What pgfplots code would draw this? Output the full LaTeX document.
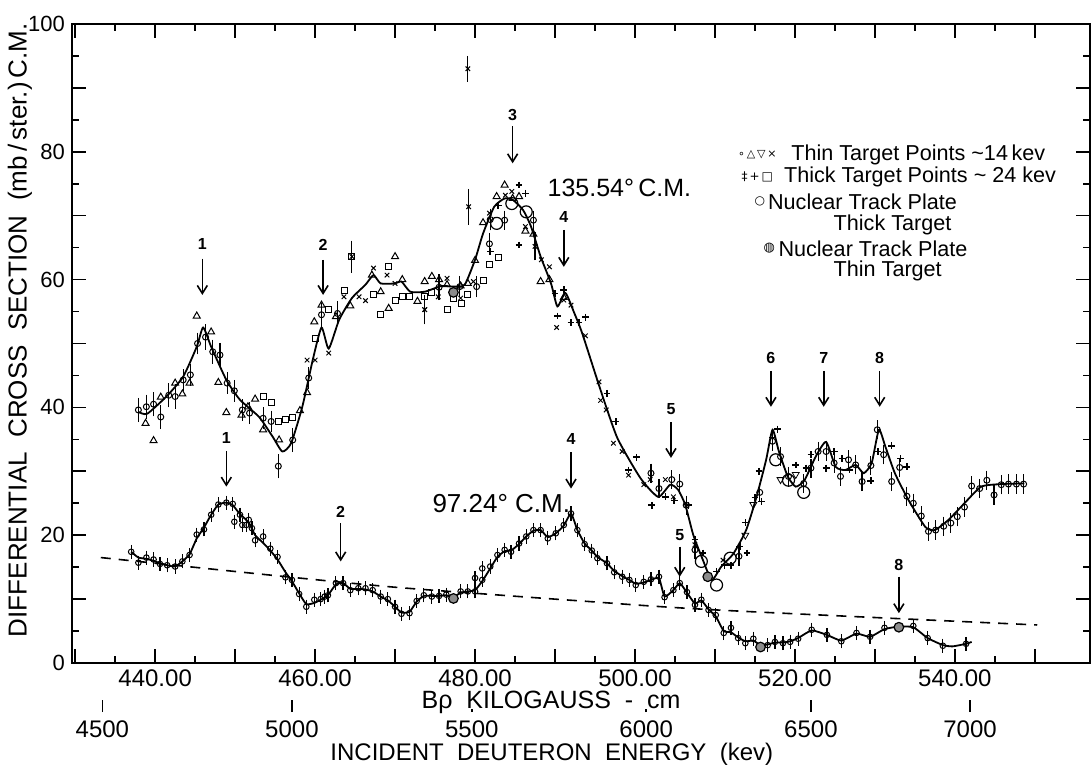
\documentclass[border=0pt]{standalone}
\usepackage{fontspec}
\setmainfont{Liberation Sans}
\newfontfamily\sym{DejaVu Sans}
\usepackage{pgfplots}
\pgfplotsset{compat=1.18}
\usetikzlibrary{arrows.meta}

\pgfplotsset{
  dat/.style={only marks, black, mark options={line width=0.5pt, solid}},
  ebar/.style={error bars/.cd, y dir=both, y explicit,
    error bar style={line width=0.6pt, black},
    error mark options={line width=0.6pt, mark size=1.6pt, black}},
}
\tikzset{
  pk/.style={-{Straight Barb[length=4pt,width=5pt]}, line width=0.8pt},
  pkl/.style={font=\bfseries\fontsize{8}{8}\selectfont},
}

\begin{document}
\begin{tikzpicture}
\begin{axis}[
  scale only axis, width=509pt, height=319.5pt,
  xmin=429.6, xmax=556.9, ymin=0, ymax=100,
  xtick={430,440,...,550},
  xticklabels={,440.00,,460.00,,480.00,,500.00,,520.00,,540.00,},
  minor x tick num=1,
  ytick={0,10,...,100},
  yticklabels={0,,20,,40,,60,,80,,100},
  minor y tick num=1,
  tick align=inside, major tick length=7pt, minor tick length=3.5pt,
  every tick/.style={black, line width=0.8pt},
  axis line style={line width=0.8pt},
  xticklabel style={font=\fontsize{12}{12}\selectfont, inner sep=0.5pt, yshift=-2.5pt},
  yticklabel style={font=\fontsize{11}{11}\selectfont},
  clip=false,
]

% 135.54 deg curve
\addplot[black, line width=0.9pt, smooth, tension=0.35] coordinates {
(437.9,39.3)(439.0,39.0)(441.4,41.7)(443.5,44.8)(445.2,49.5)(446.0,52.5)(447.0,49.5)
(448.9,44.3)(450.6,41.2)(453.0,38.5)(454.7,35.4)(455.9,33.1)(457.0,34.4)(458.4,40.1)
(459.7,47.4)(460.8,52.5)(461.7,49.2)(463.0,53.7)(464.6,57.1)(466.3,59.2)(467.3,60.7)
(468.2,59.4)(470.0,59.4)(470.8,59.7)(471.9,58.1)(473.7,58.1)(475.8,59.0)(477.3,58.9)
(478.7,59.2)(480.0,63.1)(481.0,67.2)(482.4,71.4)(483.7,72.7)(484.7,72.5)(486.0,70.9)
(487.0,68.3)(488.2,63.6)(489.5,59.4)(490.3,55.8)(491.3,57.9)(492.4,54.8)(493.4,51.6)
(495.7,42.7)(497.8,35.2)(500.7,28.9)(502.9,26.0)(504.4,27.9)(505.4,27.1)(506.3,24.7)
(507.3,20.0)(508.5,16.1)(509.6,13.0)(510.8,15.1)(512.3,17.1)(513.9,20.8)(515.2,26.0)
(516.4,31.8)(517.2,36.5)(518.0,33.1)(519.1,29.2)(520.1,27.6)(521.2,28.6)(522.6,32.3)
(523.9,34.6)(525.1,30.7)(526.3,30.2)(527.6,31.0)(528.6,29.7)(529.6,31.3)(530.5,36.5)
(531.3,33.9)(532.5,29.7)(534.2,25.5)(536.3,21.3)(537.5,20.8)(539.2,22.4)(541.2,25.0)
(543.3,27.6)(545.8,28.0)(548.7,28.1)
};

% 97.24 deg curve
\addplot[black, line width=0.9pt, smooth, tension=0.3] coordinates {
(437.0,17.4)(437.9,16.5)(438.9,16.3)(439.8,16.0)(440.6,15.6)(441.5,15.3)(442.5,15.1)
(443.4,15.9)(444.3,17.0)(445.2,19.5)(446.1,21.2)(447.0,23.2)(447.9,24.8)(448.9,25.1)
(449.7,24.7)(450.6,23.3)(451.7,22.0)(452.5,20.0)(453.5,18.8)(454.4,17.6)(455.3,16.2)
(456.3,14.2)(457.1,12.8)(458.0,10.9)(458.9,9.2)(459.9,9.4)(460.7,9.9)(461.6,10.6)
(462.6,12.3)(463.5,12.5)(464.4,11.6)(465.4,11.6)(466.3,11.5)(467.2,11.2)(468.2,10.4)
(469.1,9.8)(470.0,8.8)(470.8,7.9)(471.8,8.0)(472.7,9.6)(473.6,10.5)(474.6,10.5)
(475.5,10.5)(476.4,10.6)(477.3,10.3)(478.2,11.0)(479.1,11.2)(480.0,11.4)(480.9,12.8)
(481.9,14.8)(482.8,16.6)(483.7,17.5)(484.5,17.6)(485.5,18.6)(486.4,19.8)(487.3,20.7)
(488.2,20.8)(489.1,19.7)(490.1,20.3)(491.1,21.5)(492.0,23.4)(492.8,20.8)(493.7,18.7)
(494.6,17.6)(495.3,16.6)(496.5,15.6)(497.4,14.4)(498.4,13.6)(499.3,13.0)(500.1,12.4)
(501.1,12.6)(502.0,13.0)(503.0,13.3)(503.7,10.4)(504.8,11.4)(505.6,12.5)(506.5,11.0)
(507.5,9.3)(508.3,9.8)(509.2,8.4)(510.1,7.3)(511.1,5.0)(512.0,4.8)(512.9,4.0)
(513.8,3.4)(514.8,3.5)(515.7,2.8)(516.6,2.9)(517.5,3.2)(518.5,3.2)(519.4,3.4)
(520.4,3.9)(522.1,5.1)(524.0,4.4)(525.8,3.5)(527.7,4.6)(529.4,4.1)(531.2,5.3)
(533.0,5.7)(534.8,5.6)(536.6,3.9)(538.5,2.8)(539.7,2.6)(541.4,3.0)(542.1,3.3)
};

% dashed background
\addplot[black, line width=0.8pt, dash pattern=on 5pt off 4pt, smooth] coordinates {
(433.2,16.5)(456.4,13.5)(469.6,11.9)(481.2,10.8)(492.8,9.75)(510.2,8.3)(550.3,5.95)
};

% lower curve points
\addplot[dat, mark=o, mark size=1.4pt, ebar] coordinates {
(437.0,17.4)+-(0,0.6)(437.9,15.7)+-(0,0.6)(438.9,16.5)+-(0,0.6)(439.8,16.2)+-(0,0.6)
(440.6,15.5)+-(0,0.6)(441.5,15.3)+-(0,0.6)(442.5,15.1)+-(0,0.6)(443.4,15.9)+-(0,0.6)
(444.3,16.9)+-(0,0.6)(445.2,20.1)+-(0,0.6)(446.1,20.9)+-(0,0.6)(447.0,23.2)+-(0,0.6)
(447.9,24.8)+-(0,0.6)(448.9,25.1)+-(0,0.6)(449.7,24.9)+-(0,0.6)(449.9,22.1)+-(0,0.6)
(450.6,23.2)+-(0,0.6)(450.9,21.6)+-(0,0.6)(451.4,21.6)+-(0,0.6)(451.7,22.4)+-(0,0.6)
(452.1,21.1)+-(0,0.6)(452.5,19.2)+-(0,0.6)(453.5,19.8)+-(0,0.6)(454.4,17.9)+-(0,0.6)
(455.3,16.6)+-(0,0.6)(456.3,13.4)+-(0,0.6)(457.1,13.0)+-(0,0.6)(458.0,10.8)+-(0,0.6)
(458.9,8.8)+-(0,0.6)(459.9,9.9)+-(0,0.6)(460.7,10.0)+-(0,0.6)(461.2,10.4)+-(0,0.6)
(461.6,10.6)+-(0,0.6)(462.6,12.5)+-(0,0.6)(463.5,12.5)+-(0,0.6)(464.4,11.4)+-(0,0.6)
(465.4,11.7)+-(0,0.6)(466.3,11.7)+-(0,0.6)(467.2,11.4)+-(0,0.6)(468.2,10.4)+-(0,0.6)
(469.1,10.0)+-(0,0.6)(470.0,8.8)+-(0,0.6)(470.8,7.7)+-(0,0.6)(471.8,7.8)+-(0,0.6)
(472.7,9.7)+-(0,0.6)(473.6,10.6)+-(0,0.6)(474.6,10.4)+-(0,0.6)(475.5,10.5)+-(0,0.6)
(476.4,10.7)+-(0,0.6)(478.2,11.2)+-(0,0.6)(479.1,11.2)+-(0,0.6)(480.0,11.2)+-(0,0.6)
(480.0,13.3)+-(0,0.6)(480.9,13.0)+-(0,0.6)(480.9,14.8)+-(0,0.6)(481.9,15.1)+-(0,0.6)
(482.8,16.9)+-(0,0.6)(483.7,17.7)+-(0,0.6)(484.5,17.4)+-(0,0.6)(485.5,18.7)+-(0,0.6)
(486.4,19.8)+-(0,0.6)(487.3,20.8)+-(0,0.6)(488.2,20.8)+-(0,0.6)(489.1,19.5)+-(0,0.6)
(490.1,20.3)+-(0,0.6)(491.1,21.6)+-(0,0.6)(492.0,23.4)+-(0,0.6)(492.8,20.8)+-(0,0.6)
(493.7,18.6)+-(0,0.6)(494.6,17.6)+-(0,0.6)(495.3,16.4)+-(0,0.6)(496.5,15.6)+-(0,0.6)
(497.4,14.2)+-(0,0.6)(498.4,13.5)+-(0,0.6)(499.3,13.0)+-(0,0.6)(500.1,12.2)+-(0,0.6)
(501.1,12.7)+-(0,0.6)(502.0,13.1)+-(0,0.6)(503.0,13.5)+-(0,0.6)(503.7,10.3)+-(0,0.6)
(504.8,11.4)+-(0,0.6)(505.6,12.5)+-(0,0.6)(506.5,11.1)+-(0,0.6)(507.5,9.1)+-(0,0.6)
(508.3,9.9)+-(0,0.6)(509.2,8.3)+-(0,0.6)(510.1,7.5)+-(0,0.6)(511.1,4.7)+-(0,0.6)
(512.0,5.5)+-(0,0.6)(512.9,3.9)+-(0,0.6)(513.8,3.1)+-(0,0.6)(514.8,3.8)+-(0,0.6)
(516.6,2.8)+-(0,0.6)(517.5,3.3)+-(0,0.6)(518.5,3.1)+-(0,0.6)(519.4,3.3)+-(0,0.6)
(520.4,3.8)+-(0,0.6)(522.1,5.2)+-(0,0.6)(524.0,4.4)+-(0,0.6)(525.8,3.4)+-(0,0.6)
(527.7,4.7)+-(0,0.6)(529.4,4.1)+-(0,0.6)(531.2,5.5)+-(0,0.6)(534.8,5.8)+-(0,0.6)
(536.6,3.9)+-(0,0.6)(538.5,2.7)+-(0,0.6)(541.4,3.0)+-(0,0.6)
};

% upper: thin target circles with error bars
\addplot[dat, mark=o, mark size=1.5pt, ebar] coordinates {
(437.9,39.6)+-(0,1.4)(438.9,40.1)+-(0,1.4)(439.8,40.5)+-(0,1.4)(440.7,38.5)+-(0,1.4)
(441.7,41.9)+-(0,1.4)(442.5,41.7)+-(0,1.4)(443.5,44.3)+-(0,1.2)(444.4,45.1)+-(0,1.2)
(445.3,50.0)+-(0,1.2)(446.3,51.0)+-(0,1.5)(447.2,48.7)+-(0,1.4)(448.1,48.2)+-(0,1.4)
(449.0,43.8)+-(0,1.2)(449.9,42.6)+-(0,1.2)(450.9,39.6)+-(0,1.2)(451.8,39.1)+-(0,1.2)
(453.5,38.3)+-(0,1.2)(454.5,37.8)+-(0,1.2)(455.4,30.8)+-(0,1.4)(457.2,34.9)+-(0,1.4)
(459.2,44.6)+-(0,1.2)(460.8,54.5)+-(0,1.4)(462.8,54.7)+-(0,1.4)(475.5,58.8)+-(0,1.5)
(478.1,58.9)+-(0,1.2)(480.2,58.9)+-(0,1.2)(481.8,65.6)+-(0,1.2)(481.9,69.4)+-(0,1.2)
(483.7,69.3)+-(0,1.0)(487.3,69.3)+-(0,1.0)(502.0,29.7)+-(0,1.0)(503.0,27.3)+-(0,1.0)
(504.6,28.7)+-(0,1.0)(505.6,28.0)+-(0,1.0)(506.4,24.7)+-(0,1.0)(507.5,17.7)+-(0,1.0)
(513.0,16.7)+-(0,1.0)(515.6,26.7)+-(0,1.0)(517.2,34.7)+-(0,1.0)(518.2,32.3)+-(0,1.0)
(519.2,29.2)+-(0,1.0)(521.1,28.1)+-(0,1.0)(522.0,30.5)+-(0,1.0)(522.9,33.1)+-(0,1.0)
(523.9,33.1)+-(0,1.0)(524.9,31.3)+-(0,1.0)(525.7,29.2)+-(0,1.0)(526.7,31.8)+-(0,1.0)
(527.6,31.0)+-(0,1.0)(528.4,28.4)+-(0,1.0)(529.5,30.9)+-(0,1.0)(530.3,36.5)+-(0,1.0)
(531.1,32.6)+-(0,1.0)(532.1,28.4)+-(0,1.0)(533.1,30.6)+-(0,1.0)(534.0,26.1)+-(0,1.0)
(534.8,25.0)+-(0,1.0)(535.8,23.0)+-(0,1.0)(536.7,20.6)+-(0,1.0)(537.6,20.8)+-(0,1.0)
(538.6,21.4)+-(0,1.0)(539.5,21.9)+-(0,1.0)(540.3,22.9)+-(0,1.0)(541.2,24.4)+-(0,1.0)
(542.1,27.7)+-(0,1.0)(543.1,27.3)+-(0,1.0)(544.0,28.6)+-(0,1.0)(544.9,26.3)+-(0,1.0)
(545.8,27.9)+-(0,1.0)(546.7,28.0)+-(0,1.0)(547.7,28.0)+-(0,1.0)(548.6,28.0)+-(0,1.0)
};

% upper: thin target triangles
\addplot[dat, mark=triangle, mark size=2pt] coordinates {
(438.8,37.5)(439.8,34.8)(440.7,41.6)(442.5,43.8)(443.4,42.1)(444.3,43.8)(445.2,54.3)
(447.0,51.8)(447.9,43.9)(448.9,39.2)(450.8,38.8)(451.6,40.1)(452.5,41.3)(453.5,36.5)
(455.5,34.9)(458.1,39.5)(459.0,42.3)(459.9,53.4)(460.8,56.0)(462.6,54.2)(464.4,55.9)
(467.1,60.7)(468.2,58.1)(469.2,55.5)(470.0,63.6)(470.9,60.0)(472.8,56.6)(473.7,59.7)
(474.6,60.5)(475.5,60.0)(476.5,59.2)(478.2,59.0)(479.1,59.4)(480.0,63.0)(481.0,68.9)
(482.7,73.0)(483.7,74.8)(484.7,72.7)(485.5,73.0)(486.3,67.6)(487.3,67.1)(488.2,59.7)
(489.3,60.0)(491.1,57.2)
};

% upper: thin target inverted triangles
\addplot[dat, mark=triangle, mark size=2pt, mark options={rotate=180}] coordinates {
(518.2,28.7)(520.1,29.5)(514.8,24.8)(513.8,20.0)
};

% upper: thin target crosses
\addplot[dat, mark=x, mark size=1.6pt] coordinates {
(459.0,47.4)(460.0,47.4)(461.7,48.5)(463.6,57.3)(465.5,57.3)(466.3,56.7)(467.3,61.8)
(469.0,60.7)(470.0,59.4)(473.7,55.3)(475.4,57.3)(476.5,60.2)(478.2,57.1)(479.8,59.7)
(481.8,70.4)(483.8,73.2)(484.6,73.8)(486.3,68.3)(488.3,63.1)(489.3,62.0)(491.1,56.8)
(492.0,56.0)(490.2,52.5)(493.8,51.2)(495.5,44.0)(495.7,41.1)(496.4,39.6)(497.3,34.4)
(498.4,33.1)(499.2,29.4)(501.1,27.9)(501.9,28.7)(503.8,28.7)(504.8,26.0)(506.5,24.7)
(507.5,18.5)(511.0,16.1)
};

% crosses with error bars
\addplot[dat, mark=x, mark size=1.6pt, ebar] coordinates {
(479.1,93.0)+-(0,1.5)(479.2,71.4)+-(0,2.3)(487.5,65.2)+-(0,1.7)(473.7,55.3)+-(0,1.8)
(464.6,63.6)+-(0,2.0)
};

% upper: thick target squares
\addplot[dat, mark=square, mark size=1.5pt] coordinates {
(453.6,41.7)(454.5,40.7)(455.4,37.8)(456.3,38.1)(457.2,38.4)(460.1,50.8)(461.7,55.3)
(463.7,58.3)(464.6,63.6)(467.3,57.7)(468.2,54.5)(469.2,62.0)(470.0,56.7)(470.9,57.4)
(471.8,57.3)(473.7,57.3)(474.6,58.0)(476.5,55.3)(477.3,57.1)(478.3,56.3)(479.1,57.6)
(481.0,59.9)(481.8,62.3)(482.9,63.4)
};

% upper: thick target plus
\addplot[dat, mark=+, mark size=1.7pt, mark options={line width=0.8pt}] coordinates {
(485.5,74.8)(486.3,73.5)(485.5,65.4)(481.9,64.4)(482.9,71.6)(490.0,57.8)(490.3,54.3)
(491.1,58.4)(492.0,53.3)(493.0,53.3)(493.8,54.1)(496.5,42.2)(497.6,37.8)(500.2,32.2)
(499.2,30.2)(502.1,24.7)(503.8,26.0)(504.9,25.4)(506.7,24.7)(507.5,19.3)(508.5,17.2)
(510.2,14.3)(511.2,15.3)(512.0,15.3)(513.1,18.2)(514.0,17.2)(513.8,22.0)(515.0,25.9)
(515.8,25.3)(515.5,30.0)(517.2,35.3)(517.8,36.6)(520.1,31.0)(521.4,30.5)(522.0,32.6)
(523.9,30.5)(524.9,33.1)(525.9,32.0)(526.8,30.2)(529.5,28.5)(530.4,33.1)(532.1,34.0)
(533.2,32.0)(534.0,30.7)
};

% nuclear track plate, thick target
\addplot[dat, mark=o, mark size=3pt, mark options={fill=white, line width=0.6pt}] coordinates {
(482.7,68.8)(484.6,71.9)(486.4,70.6)(508.3,15.9)(510.2,12.2)(511.9,16.4)(517.6,31.8)
(519.2,28.6)(521.1,26.7)
};

% nuclear track plate, thin target
\addplot[dat, mark=*, mark size=2.4pt, mark options={fill=black!45, draw=black, line width=0.6pt}] coordinates {
(477.3,58.0)(509.1,13.5)(477.3,10.1)(515.7,2.5)(533.0,5.6)
};

% resonance arrows
\draw[pk] (axis cs:445.9,63.3) -- (axis cs:445.9,57.6);
\node[pkl] at (axis cs:445.9,65.6) {1};
\draw[pk] (axis cs:461.0,63.1) -- (axis cs:461.0,57.6);
\node[pkl] at (axis cs:461.0,65.4) {2};
\draw[pk] (axis cs:484.7,84.0) -- (axis cs:484.7,78.2);
\node[pkl] at (axis cs:484.7,85.8) {3};
\draw[pk] (axis cs:491.1,67.8) -- (axis cs:491.1,62.0);
\node[pkl] at (axis cs:491.1,69.8) {4};
\draw[pk] (axis cs:504.5,37.7) -- (axis cs:504.5,32.1);
\node[pkl] at (axis cs:504.5,39.7) {5};
\draw[pk] (axis cs:517.0,45.7) -- (axis cs:517.0,40.1);
\node[pkl] at (axis cs:517.0,47.7) {6};
\draw[pk] (axis cs:523.6,45.7) -- (axis cs:523.6,40.1);
\node[pkl] at (axis cs:523.6,47.7) {7};
\draw[pk] (axis cs:530.6,45.7) -- (axis cs:530.6,40.1);
\node[pkl] at (axis cs:530.6,47.7) {8};

\draw[pk] (axis cs:448.9,33.2) -- (axis cs:448.9,27.6);
\node[pkl] at (axis cs:448.9,35.2) {1};
\draw[pk] (axis cs:463.2,21.9) -- (axis cs:463.2,15.9);
\node[pkl] at (axis cs:463.2,23.7) {2};
\draw[pk] (axis cs:492.0,33.0) -- (axis cs:492.0,27.3);
\node[pkl] at (axis cs:492.0,35.1) {4};
\draw[pk] (axis cs:505.6,18.2) -- (axis cs:505.6,13.5);
\node[pkl] at (axis cs:505.6,20.0) {5};
\draw[pk] (axis cs:533.0,13.5) -- (axis cs:533.0,7.8);
\node[pkl] at (axis cs:533.0,15.3) {8};

% curve names
\node[anchor=west, font=\fontsize{12.5}{12.5}\selectfont] at (axis cs:488.2,74.3) {135.54°\,C.M.};
\node[anchor=west, font=\fontsize{13}{13}\selectfont] at (axis cs:473.8,25.0) {97.24°\ C.M.};

% key
\begin{scope}[every node/.style={anchor=west, inner sep=0pt, font=\fontsize{10.8}{10.8}\selectfont}]
\node[anchor=center, font=\sym\fontsize{5.5}{5.5}\selectfont] at (axis cs:515.3,79.5) {∘\,△\,▽\,×};
\node at (axis cs:519.5,79.5) {Thin\ Target\ Points\ \textasciitilde14\,kev};
\node[anchor=center, font=\sym\fontsize{6}{6}\selectfont] at (axis cs:515.3,76.1) {‡\,+\,□};
\node at (axis cs:518.6,76.1) {Thick\ Target\ Points\ \textasciitilde\ 24\ kev};
\node[anchor=center, font=\sym\fontsize{6}{6}\selectfont] at (axis cs:515.6,72.2) {○};
\node at (axis cs:516.6,72.2) {Nuclear\ Track\ Plate};
\node at (axis cs:524.8,68.6) {Thick\ Target};
\node[anchor=center, font=\sym\fontsize{6.5}{6.5}\selectfont] at (axis cs:516.8,64.9) {◍};
\node at (axis cs:517.9,64.9) {Nuclear\ Track\ Plate};
\node at (axis cs:524.8,61.3) {Thin\ Target};
\end{scope}

% axis titles
\node[rotate=90, font=\fontsize{13}{13}\selectfont] at ([xshift=-26pt]axis cs:429.6,52.1)
  {DIFFERENTIAL\ \ CROSS\ \ SECTION\ \ (mb\,/\,ster.)\,C.M.};
\node[font=\fontsize{12.5}{12.5}\selectfont, inner sep=0pt] at ([yshift=-19.5pt]axis cs:489.5,0)
  {Bρ\ \ KILOGAUSS\ \ -\ \ cm};
\node[font=\fontsize{12}{12}\selectfont, inner sep=0.5pt] at ([yshift=-45.5pt]axis cs:489.6,0)
  {INCIDENT\ \ DEUTERON\ \ ENERGY\ \ (kev)};
\end{axis}

% energy scale under the B-rho scale
\begin{axis}[
  at={(0pt,-24.5pt)}, anchor=south west,
  scale only axis, width=509pt, height=319.5pt,
  xmin=429.6, xmax=556.9, ymin=0, ymax=100,
  hide y axis, axis x line*=bottom, x axis line style={draw=none},
  xtick={433.4,457.1,522.0,541.9},
  xticklabels={4500,5000,6500,7000},
  extra x ticks={479.6,501.4},
  extra x tick labels={5500,6000},
  extra x tick style={major tick length=1.5pt},
  tick align=inside, major tick length=6pt,
  every tick/.style={black, line width=0.7pt},
  xticklabel style={yshift=-3.5pt, inner sep=0.5pt, font=\fontsize{12}{12}\selectfont},
]
\addplot[draw=none] coordinates {(440,50)};
\end{axis}

\pgfresetboundingbox
\path (-36pt,-51pt) rectangle (510pt,331.5pt);
\end{tikzpicture}
\end{document}
